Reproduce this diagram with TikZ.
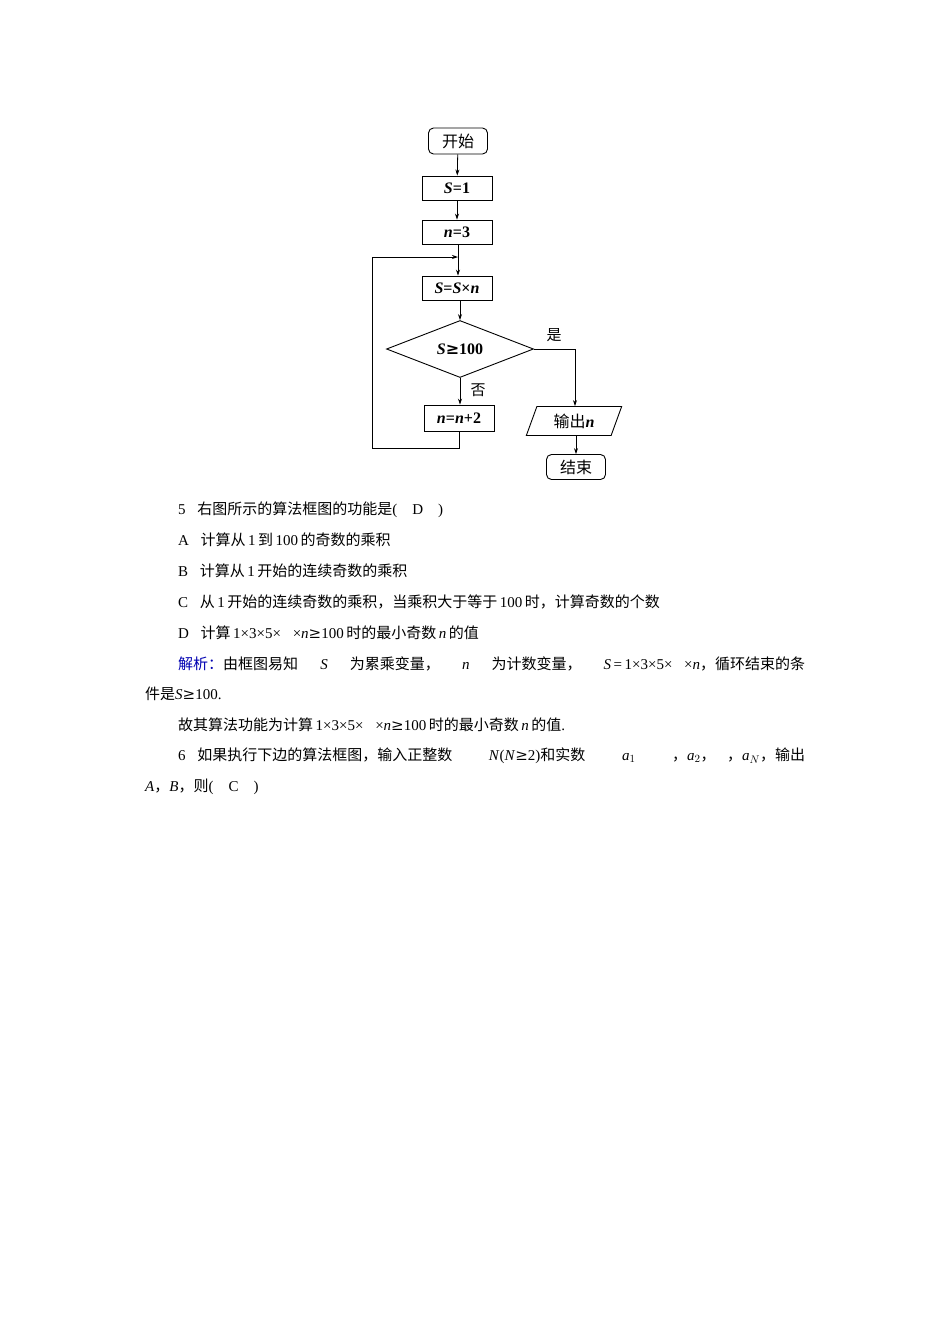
\documentclass[tikz,border=0pt]{standalone}
\usepackage{fontspec}
\setmainfont{Liberation Serif}
\newfontfamily\cjk{Noto Sans CJK SC}
\newcommand\bivar[1]{\textbf{\textit{#1}}}
\usetikzlibrary{shapes.geometric,arrows.meta}
\begin{document}
\begin{tikzpicture}[x=1pt,y=-1pt,
  box/.style={draw,line width=0.9pt,minimum width=70pt,minimum height=24pt,inner sep=0pt,font=\fontsize{16}{16}\selectfont\bfseries},
  term/.style={draw,line width=0.9pt,rounded corners=5pt,minimum width=59pt,minimum height=26pt,inner sep=0pt,font=\fontsize{16}{16}\selectfont\cjk},
  arr/.style={line width=0.8pt,-{Stealth[length=6pt,width=4pt]}},
  ln/.style={line width=0.8pt},
  txt/.style={anchor=west,inner sep=0pt,font=\fontsize{15}{15}\selectfont}]
\useasboundingbox (0,0) rectangle (950,1344);
\fill[white] (0,0) rectangle (950,1344);
\node[term] (start) at (458,141) {开始};
\node[box] (s1) at (457,188) {\bivar{S}=1};
\node[box] (n3) at (457,232) {\bivar{n}=3};
\coordinate (join) at (458,257);
\node[box] (ssn) at (457,288) {\bivar{S}=\bivar{S}×\bivar{n}};
\node[draw,diamond,aspect=2.6,line width=0.9pt,minimum width=147pt,minimum height=57pt,inner sep=0pt,font=\fontsize{16}{16}\selectfont\bfseries] (dec) at (460,349) {\bivar{S}{\fontspec{DejaVu Serif}\bfseries ≥}100};
\node[box,minimum height=26pt] (nn2) at (459,418) {\bivar{n}=\bivar{n}+2};
\node[draw,trapezium,trapezium left angle=70,trapezium right angle=110,line width=0.9pt,minimum width=70pt,minimum height=29pt,inner sep=1pt,font=\fontsize{16}{16}\selectfont] (out) at (574,421) {{\cjk 输出}\bivar{n}};
\node[term,minimum height=25pt] (end) at (576,467) {结束};
\node[font=\fontsize{15}{15}\selectfont\cjk] (yes) at (554,335) {是};
\node[font=\fontsize{15}{15}\selectfont\cjk] (no) at (478,390) {否};
\draw[arr] (start) -- (s1);
\draw[arr] (s1) -- (n3);
\draw[ln] (n3.south -| join) -- (join);
\draw[arr] (join) -- (ssn.north -| join);
\draw[arr] (ssn.south -| dec.north) -- (dec.north);
\draw[arr] (dec.south) -- (nn2.north -| dec.south);
\draw[arr] (nn2.south) -- ++(0,17) -| (372,257) -- (join);
\draw[arr] (dec.east) -| (out.north -| 575,0);
\draw[arr] (out.south -| 576,0) -- (end);
% text
\node[txt] (l1) at (178,510) {5．{\cjk 右图所示的算法框图的功能是}(\quad D\quad )};
\node[txt] (l2) at (178,540) {A．{\cjk 计算从}\,1\,{\cjk 到}\,100\,{\cjk 的奇数的乘积}};
\node[txt] (l3) at (178,571) {B．{\cjk 计算从}\,1\,{\cjk 开始的连续奇数的乘积}};
\node[txt] (l4) at (178,602) {C．{\cjk 从}\,1\,{\cjk 开始的连续奇数的乘积，当乘积大于等于}\,100\,{\cjk 时，计算奇数的个数}};
\node[txt] (l5) at (178,633) {D．{\cjk 计算}\,1×3×5×⋯×\textit{n}{\fontspec{DejaVu Serif}≥}100\,{\cjk 时的最小奇数}\,\textit{n}\,{\cjk 的值}};
\node[txt] (l6) at (178,664) {\hbox to 627pt{{\color{blue!70!black}\cjk 解析：}{\cjk 由框图易知}\hfil\textit{S}\hfil{\cjk 为累乘变量，}\hfil\textit{n}\hfil{\cjk 为计数变量，}\hfil\textit{S}\,=\,1×3×5×⋯×\textit{n}{\cjk ，循环结束的条}}};
\node[txt] (l7) at (145,694) {{\cjk 件是}\textit{S}{\fontspec{DejaVu Serif}≥}100.};
\node[txt] (l8) at (178,725) {{\cjk 故其算法功能为计算}\,1×3×5×⋯×\textit{n}{\fontspec{DejaVu Serif}≥}100\,{\cjk 时的最小奇数}\,\textit{n}\,{\cjk 的值}.};
\node[txt] (l9) at (178,756) {\hbox to 627pt{6．{\cjk 如果执行下边的算法框图，输入正整数}\hfil\textit{N}(\textit{N}{\fontspec{DejaVu Serif}≥}2){\cjk 和实数}\hfil\textit{a}$_1$\hfil{\cjk ，}\textit{a}$_2${\cjk ，}⋯{\cjk ，}\textit{a}$_N${\cjk ，输出}}};
\node[txt] (l10) at (145,787) {\textit{A}{\cjk ，}\textit{B}{\cjk ，则}(\quad C\quad )};
\end{tikzpicture}
\end{document}
